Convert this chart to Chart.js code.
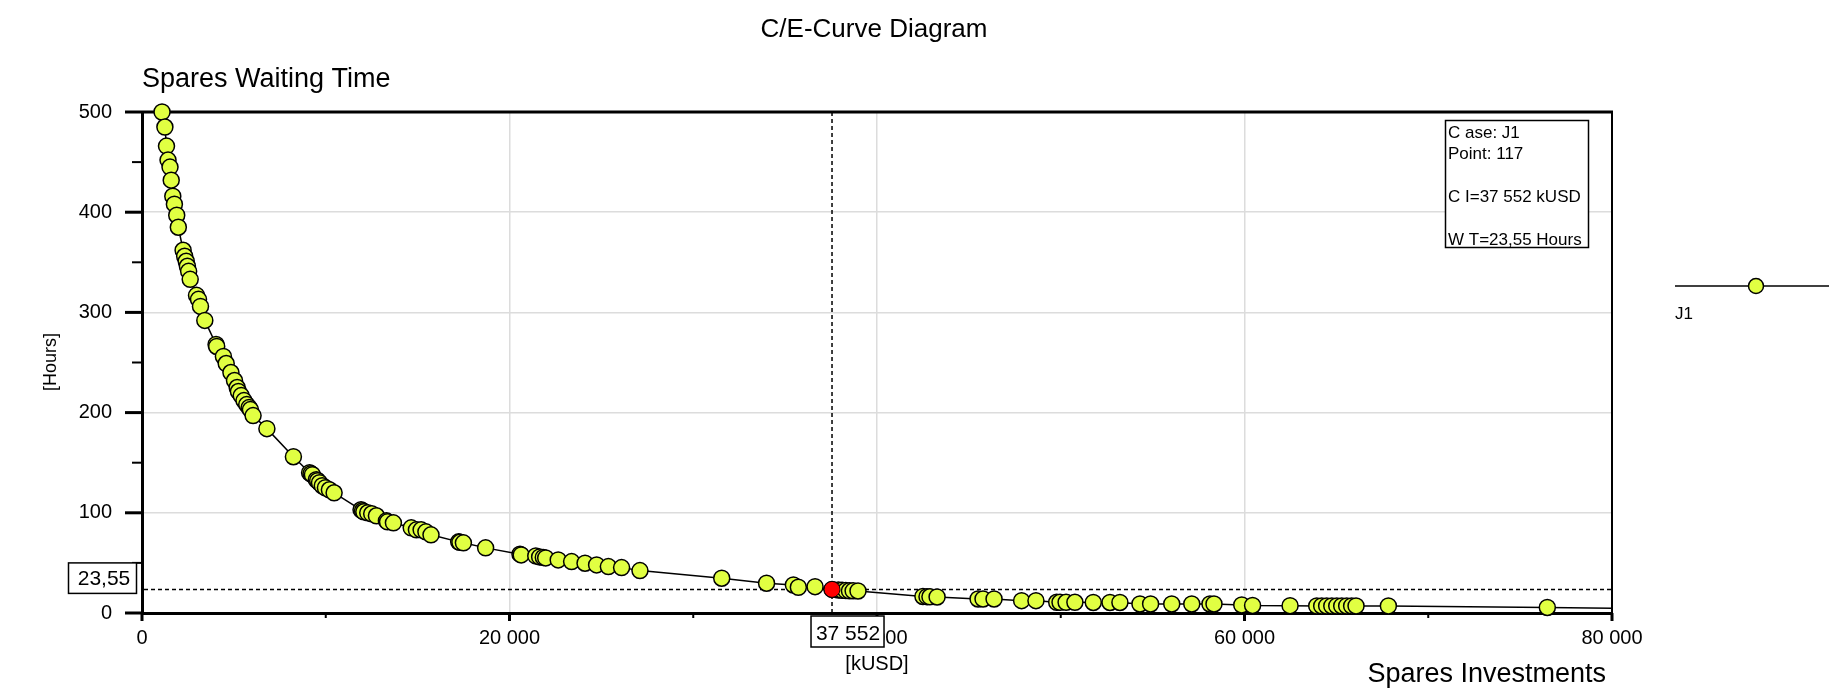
<!DOCTYPE html>
<html>
<head>
<meta charset="utf-8">
<title>C/E-Curve Diagram</title>
<script src="https://cdn.jsdelivr.net/npm/chart.js@4.4.1/dist/chart.umd.min.js"></script>
<style>
  html, body { margin: 0; padding: 0; background: #fff; }
  canvas { display: block; }
</style>
</head>
<body>
<canvas id="ceChart" width="1829" height="692"></canvas>
<script>
// Curve points: spares investment [kUSD] vs waiting time [hours]
const investKUSD = [
  1090, 1246, 1333, 1416, 1524, 1590, 1676, 1763, 1890, 1977,
  2237, 2322, 2407, 2471, 2538, 2623, 2966, 3075, 3183, 3418,
  4030, 4065, 4430, 4582, 4840, 5034, 5180, 5248, 5399, 5550,
  5700, 5830, 5900, 6045, 6797, 8240, 9121, 9200, 9273, 9487,
  9560, 9660, 9811, 9982, 10198, 10455, 11920, 12000, 12071, 12284,
  12500, 12757, 13300, 13361, 13682, 14651, 14933, 15190, 15450, 15728,
  17235, 17300, 17491, 18700, 20570, 20636, 21430, 21640, 21840, 21970,
  22650, 23380, 24110, 24740, 25380, 26100, 27100, 31550, 33990, 35450,
  35720, 36630, 37552, 37900, 38100, 38300, 38500, 38700, 38966, 42500,
  42720, 42880, 43270, 45500, 45770, 46370, 47870, 48650, 49780, 49960,
  50290, 50770, 51770, 52680, 53220, 54310, 54890, 56040, 57130, 58120,
  58340, 59850, 60440, 62480, 63930, 64200, 64470, 64750, 65020, 65290,
  65560, 65830, 66070, 67830, 76480, 82000
];
const waitHours = [
  500, 485, 466, 452, 445, 432, 416, 408, 397, 385,
  362, 356, 351, 346, 341, 333, 317, 313, 306, 292,
  268, 266, 256, 249, 240, 232, 225, 221, 217, 212,
  208, 205, 203, 197, 184, 156, 140, 139, 138, 133,
  132, 130, 127, 125, 123, 120, 103, 102, 101, 100,
  99, 97, 92, 91, 90, 85, 83, 83, 81, 78,
  71, 70.5, 70, 65, 58.7, 58, 57, 56, 55.5, 55,
  53, 51.3, 49.7, 48, 46.3, 45.3, 42.3, 34.7, 29.7, 28,
  25.7, 26.3, 23.55, 23, 22.6, 22.4, 22.2, 22.1, 22, 16.5,
  16.3, 16.2, 16, 14, 14, 14, 12.3, 12.3, 10.7, 10.7,
  10.7, 10.7, 10.5, 10.5, 10.5, 9, 9, 9, 9, 9,
  9, 8, 7.5, 7.3, 7, 7, 7, 7, 7, 7,
  7, 7, 7, 7, 5.5, 4.3
];

// Selected point (red marker + crosshair)
const selectedX = [37552];
const selectedY = [23.55];
const selectedXLabel = '37 552';
const selectedYLabel = '23,55';

// Axis ranges / steps
const xRange = [0, 80000];
const yRange = [0, 500];
const xMinorStep = 10000, xMajorStep = 20000;
const yMinorStep = 50, yMajorStep = 100;

// Texts
const chartTitle = 'C/E-Curve Diagram';
const yTitle = 'Spares Waiting Time';
const yUnit = '[Hours]';
const xTitle = 'Spares Investments';
const xUnit = '[kUSD]';
const seriesName = 'J1';
const infoLines = ['C ase: J1', 'Point: 117', '', 'C I=37 552 kUSD', '', 'W T=23,55 Hours'];

const FONT = '"Liberation Sans", Arial, sans-serif';
const POINT_FILL = '#e1ff42';

function formatThousands(v) {
  return String(v).replace(/\B(?=(\d{3})+(?!\d))/g, ' ');
}

function setFont(ctx, size) {
  ctx.font = size + 'px ' + FONT;
}

// Everything the Chart.js core does not draw: frame, tick marks, crosshair, boxes, texts, legend
const overlayPlugin = {
  id: 'ceOverlay',
  beforeDatasetsDraw(chart) {
    const { ctx, chartArea: a, scales: { x, y } } = chart;
    ctx.save();
    ctx.strokeStyle = '#000';
    // thick top line, thin right frame line
    ctx.lineWidth = 3;
    ctx.beginPath();
    ctx.moveTo(a.left, a.top);
    ctx.lineTo(a.right + 1, a.top);
    ctx.stroke();
    ctx.lineWidth = 2;
    ctx.beginPath();
    ctx.moveTo(a.right, a.top);
    ctx.lineTo(a.right, a.bottom);
    ctx.stroke();

    // dashed crosshair through the selected point
    const px = x.getPixelForValue(selectedX[0]);
    const py = y.getPixelForValue(selectedY[0]);
    ctx.setLineDash([4, 3]);
    ctx.lineWidth = 1.5;
    ctx.beginPath();
    ctx.moveTo(px, a.top);
    ctx.lineTo(px, a.bottom + 3);
    ctx.moveTo(a.left + 2, py);
    ctx.lineTo(a.right, py);
    ctx.stroke();
    ctx.restore();
  },
  afterDraw(chart) {
    const { ctx, chartArea: a, scales: { x, y } } = chart;
    ctx.save();
    ctx.strokeStyle = '#000';
    ctx.fillStyle = '#000';

    // y tick marks (long at 100s, short at 50s)
    y.ticks.forEach(t => {
      const p = y.getPixelForValue(t.value);
      const major = t.value % yMajorStep === 0;
      ctx.lineWidth = major ? 3 : 2;
      ctx.beginPath();
      ctx.moveTo(a.left - (major ? 17 : 10), p);
      ctx.lineTo(a.left, p);
      ctx.stroke();
    });
    // x tick marks
    x.ticks.forEach(t => {
      const p = x.getPixelForValue(t.value);
      const major = t.value % xMajorStep === 0;
      ctx.lineWidth = major ? 3 : 2;
      ctx.beginPath();
      ctx.moveTo(p, a.bottom);
      ctx.lineTo(p, a.bottom + (major ? 8 : 5));
      ctx.stroke();
    });

    const px = x.getPixelForValue(selectedX[0]);
    const py = y.getPixelForValue(selectedY[0]);

    // value boxes on the axes
    ctx.lineWidth = 1.5;
    setFont(ctx, 21);
    ctx.textBaseline = 'middle';
    ctx.textAlign = 'center';
    ctx.fillStyle = '#fff';
    ctx.fillRect(68.5, py - 26.5, 68, 30.5);
    ctx.strokeRect(68.5, py - 26.5, 68, 30.5);
    ctx.fillRect(px - 21, a.bottom + 3, 73, 31);
    ctx.strokeRect(px - 21, a.bottom + 3, 73, 31);
    ctx.fillStyle = '#000';
    ctx.fillText(selectedYLabel, 104, py - 10);
    ctx.fillText(selectedXLabel, px + 16, a.bottom + 21);

    // titles
    setFont(ctx, 26);
    ctx.textAlign = 'center';
    ctx.fillText(chartTitle, 874, 30);
    setFont(ctx, 27);
    ctx.textAlign = 'left';
    ctx.fillText(yTitle, a.left, 80);
    ctx.textAlign = 'right';
    ctx.fillText(xTitle, a.right - 6, 675);
    setFont(ctx, 20);
    ctx.textAlign = 'center';
    ctx.fillText(xUnit, x.getPixelForValue(40000), 664);
    ctx.save();
    ctx.translate(51, 362);
    ctx.rotate(-Math.PI / 2);
    setFont(ctx, 18);
    ctx.fillText(yUnit, 0, 0);
    ctx.restore();

    // info box
    ctx.lineWidth = 1.5;
    ctx.fillStyle = '#fff';
    ctx.fillRect(1445.5, 120.5, 143, 127);
    ctx.strokeRect(1445.5, 120.5, 143, 127);
    ctx.fillStyle = '#000';
    setFont(ctx, 17);
    ctx.textAlign = 'left';
    infoLines.forEach((line, i) => {
      ctx.fillText(line, 1448, 133.5 + i * 21.3);
    });

    // legend
    ctx.lineWidth = 1.5;
    ctx.beginPath();
    ctx.moveTo(1675, 286);
    ctx.lineTo(1829, 286);
    ctx.stroke();
    ctx.beginPath();
    ctx.arc(1756, 286, 7.5, 0, Math.PI * 2);
    ctx.fillStyle = POINT_FILL;
    ctx.fill();
    ctx.stroke();
    ctx.fillStyle = '#000';
    setFont(ctx, 17);
    ctx.fillText(seriesName, 1675, 314);

    ctx.restore();
  }
};

const curveData = investKUSD.map((v, i) => ({ x: v, y: waitHours[i] }));
const selectedData = selectedX.map((v, i) => ({ x: v, y: selectedY[i] }));

new Chart(document.getElementById('ceChart'), {
  type: 'scatter',
  data: {
    datasets: [
      {
        label: 'selected',
        data: selectedData,
        order: 0,
        pointRadius: 8,
        pointBackgroundColor: '#ff0000',
        pointBorderColor: '#000',
        pointBorderWidth: 1,
        clip: false
      },
      {
        label: seriesName,
        data: curveData,
        order: 1,
        showLine: true,
        tension: 0,
        borderColor: '#000',
        borderWidth: 1.5,
        pointRadius: 8,
        pointBackgroundColor: POINT_FILL,
        pointBorderColor: '#000',
        pointBorderWidth: 1.5,
        clip: { left: 12, top: 12, right: 0, bottom: 12 }
      }
    ]
  },
  options: {
    responsive: false,
    animation: false,
    events: [],
    layout: { padding: { left: 0, top: 112, right: 217, bottom: 0 } },
    plugins: {
      legend: { display: false },
      title: { display: false },
      tooltip: { enabled: false }
    },
    scales: {
      x: {
        type: 'linear',
        min: xRange[0],
        max: xRange[1],
        afterFit: s => { s.height = 79; },
        border: { display: true, color: '#000', width: 3 },
        grid: {
          drawTicks: false,
          lineWidth: 1.5,
          color: c => (c.tick && c.tick.value % xMajorStep === 0) ? '#dcdcdc' : 'rgba(0,0,0,0)'
        },
        ticks: {
          stepSize: xMinorStep,
          autoSkip: false,
          maxRotation: 0,
          padding: 13,
          color: '#000',
          font: { family: FONT, size: 20 },
          callback: v => v % xMajorStep === 0 ? formatThousands(v) : ''
        }
      },
      y: {
        type: 'linear',
        min: yRange[0],
        max: yRange[1],
        afterFit: s => { s.width = 142; },
        border: { display: true, color: '#000', width: 3 },
        grid: {
          drawTicks: false,
          lineWidth: 1.5,
          color: c => (c.tick && c.tick.value % yMajorStep === 0) ? '#dcdcdc' : 'rgba(0,0,0,0)'
        },
        ticks: {
          stepSize: yMinorStep,
          autoSkip: false,
          padding: 30,
          color: '#000',
          font: { family: FONT, size: 20 },
          callback: v => v % yMajorStep === 0 ? String(v) : ''
        }
      }
    }
  },
  plugins: [overlayPlugin]
});
</script>
</body>
</html>
